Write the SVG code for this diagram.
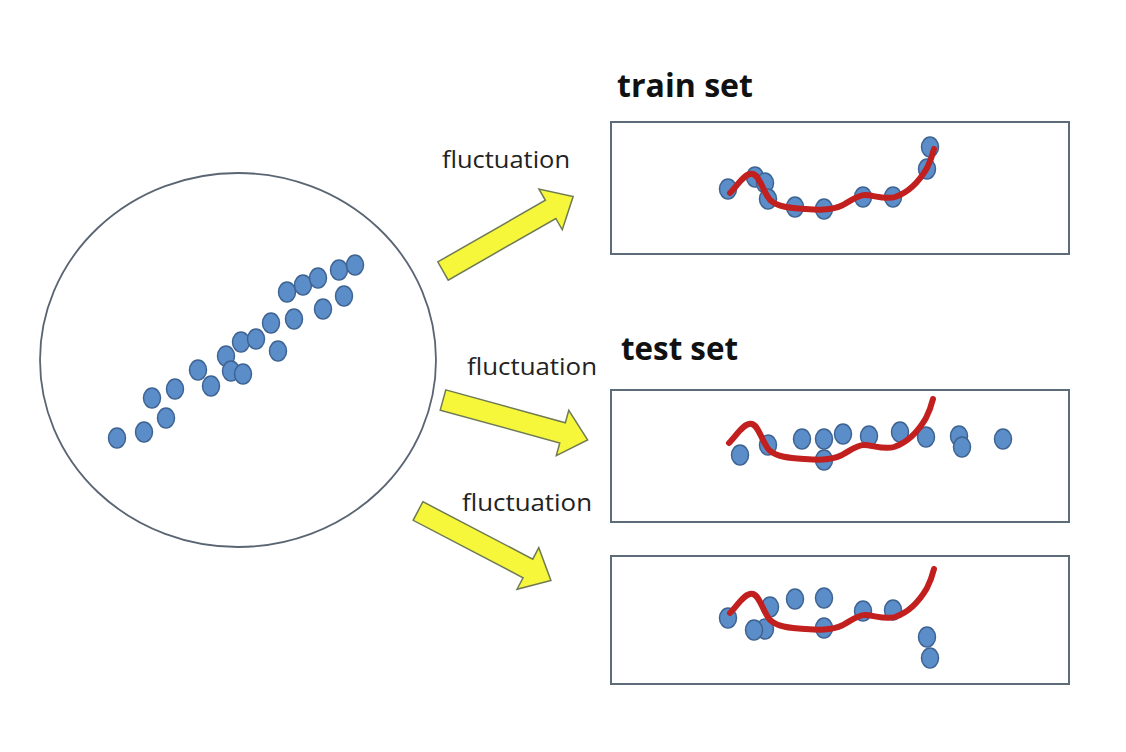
<svg xmlns="http://www.w3.org/2000/svg" xmlns:xlink="http://www.w3.org/1999/xlink" width="1126" height="752" viewBox="0 0 1126 752">
<style>
.dot{fill:#5b8dc9;stroke:#3e6392;stroke-width:1.5}
.box{fill:#ffffff;stroke:#5e6b78;stroke-width:2}
.fit{fill:none;stroke:#c21f1f;stroke-width:6;stroke-linecap:round;stroke-linejoin:round}
.arrow{fill:#f6f63a;stroke:#6f7a55;stroke-width:1.5;stroke-linejoin:miter}
.title{font-family:"Open Sans","Liberation Sans",sans-serif;font-weight:bold;font-size:32px;fill:#111}
.lbl{font-family:"Open Sans","Liberation Sans",sans-serif;font-size:24px;fill:#222}
</style>
<defs>
<path id="arr" d="M0,-10.5 H124 V-23.5 L150,0 L124,23.5 V10.5 H0 Z"/>
<path id="fitcurve" d="M730,193 C738,185 745,172 753,174 C760,176 762,190 770,200 C778,207 790,208 805,209 C818,210 830,211 843,205 C852,200 858,195 865,195 C873,195 885,200 895,197 C910,192 920,180 927,168 C931,160 933,153 934,149"/>
</defs>
<rect width="1126" height="752" fill="#ffffff"/>

<g id="population">
<ellipse cx="238" cy="360" rx="198" ry="187" fill="#ffffff" stroke="#5a6573" stroke-width="1.8"/>
<ellipse class="dot" cx="117" cy="438" rx="8.5" ry="10"/>
<ellipse class="dot" cx="144" cy="432" rx="8.5" ry="10"/>
<ellipse class="dot" cx="166" cy="418" rx="8.5" ry="10"/>
<ellipse class="dot" cx="152" cy="398" rx="8.5" ry="10"/>
<ellipse class="dot" cx="175" cy="389" rx="8.5" ry="10"/>
<ellipse class="dot" cx="198" cy="370" rx="8.5" ry="10"/>
<ellipse class="dot" cx="211" cy="386" rx="8.5" ry="10"/>
<ellipse class="dot" cx="226" cy="356" rx="8.5" ry="10"/>
<ellipse class="dot" cx="231" cy="371" rx="8.5" ry="10"/>
<ellipse class="dot" cx="243" cy="374" rx="8.5" ry="10"/>
<ellipse class="dot" cx="241" cy="342" rx="8.5" ry="10"/>
<ellipse class="dot" cx="256" cy="339" rx="8.5" ry="10"/>
<ellipse class="dot" cx="271" cy="323" rx="8.5" ry="10"/>
<ellipse class="dot" cx="278" cy="351" rx="8.5" ry="10"/>
<ellipse class="dot" cx="294" cy="319" rx="8.5" ry="10"/>
<ellipse class="dot" cx="287" cy="292" rx="8.5" ry="10"/>
<ellipse class="dot" cx="303" cy="285" rx="8.5" ry="10"/>
<ellipse class="dot" cx="318" cy="278" rx="8.5" ry="10"/>
<ellipse class="dot" cx="323" cy="309" rx="8.5" ry="10"/>
<ellipse class="dot" cx="339" cy="270" rx="8.5" ry="10"/>
<ellipse class="dot" cx="355" cy="265" rx="8.5" ry="10"/>
<ellipse class="dot" cx="344" cy="296" rx="8.5" ry="10"/>
</g>

<g id="connectors">
<use href="#arr" class="arrow" transform="translate(443,271) rotate(-29.8)"/>
<use href="#arr" class="arrow" transform="translate(443,400) rotate(15.4)"/>
<use href="#arr" class="arrow" transform="translate(418,511) rotate(27.6)"/>
<text class="lbl" x="442" y="168" textLength="128" lengthAdjust="spacingAndGlyphs">fluctuation</text>
<text class="lbl" x="467" y="375" textLength="130" lengthAdjust="spacingAndGlyphs">fluctuation</text>
<text class="lbl" x="462" y="511" textLength="130" lengthAdjust="spacingAndGlyphs">fluctuation</text>
</g>

<g id="train-set">
<text class="title" x="617" y="97" textLength="136" lengthAdjust="spacingAndGlyphs">train set</text>
<rect class="box" x="611" y="122" width="458" height="132"/>
<ellipse class="dot" cx="728" cy="189" rx="8.5" ry="10"/>
<ellipse class="dot" cx="755" cy="177" rx="8.5" ry="10"/>
<ellipse class="dot" cx="765" cy="183" rx="8.5" ry="10"/>
<ellipse class="dot" cx="768" cy="199" rx="8.5" ry="10"/>
<ellipse class="dot" cx="795" cy="207" rx="8.5" ry="10"/>
<ellipse class="dot" cx="824" cy="209" rx="8.5" ry="10"/>
<ellipse class="dot" cx="863" cy="197" rx="8.5" ry="10"/>
<ellipse class="dot" cx="893" cy="197" rx="8.5" ry="10"/>
<ellipse class="dot" cx="930" cy="147" rx="8.5" ry="10"/>
<ellipse class="dot" cx="927" cy="169" rx="8.5" ry="10"/>
<use href="#fitcurve" class="fit"/>
</g>

<g id="test-set">
<text class="title" x="621" y="360" textLength="117" lengthAdjust="spacingAndGlyphs">test set</text>
<rect class="box" x="611" y="390" width="458" height="132"/>
<ellipse class="dot" cx="740" cy="455" rx="8.5" ry="10"/>
<ellipse class="dot" cx="768" cy="445" rx="8.5" ry="10"/>
<ellipse class="dot" cx="802" cy="439" rx="8.5" ry="10"/>
<ellipse class="dot" cx="824" cy="460" rx="8.5" ry="10"/>
<ellipse class="dot" cx="824" cy="439" rx="8.5" ry="10"/>
<ellipse class="dot" cx="843" cy="434" rx="8.5" ry="10"/>
<ellipse class="dot" cx="869" cy="436" rx="8.5" ry="10"/>
<ellipse class="dot" cx="900" cy="432" rx="8.5" ry="10"/>
<ellipse class="dot" cx="926" cy="437" rx="8.5" ry="10"/>
<ellipse class="dot" cx="959" cy="436" rx="8.5" ry="10"/>
<ellipse class="dot" cx="962" cy="447" rx="8.5" ry="10"/>
<ellipse class="dot" cx="1003" cy="439" rx="8.5" ry="10"/>
<use href="#fitcurve" class="fit" transform="translate(-1,250)"/>
</g>

<g id="test-set-2">
<rect class="box" x="611" y="556" width="458" height="128"/>
<ellipse class="dot" cx="728" cy="618" rx="8.5" ry="10"/>
<ellipse class="dot" cx="770" cy="607" rx="8.5" ry="10"/>
<ellipse class="dot" cx="765" cy="629" rx="8.5" ry="10"/>
<ellipse class="dot" cx="754" cy="630" rx="8.5" ry="10"/>
<ellipse class="dot" cx="795" cy="599" rx="8.5" ry="10"/>
<ellipse class="dot" cx="824" cy="598" rx="8.5" ry="10"/>
<ellipse class="dot" cx="824" cy="628" rx="8.5" ry="10"/>
<ellipse class="dot" cx="863" cy="611" rx="8.5" ry="10"/>
<ellipse class="dot" cx="893" cy="610" rx="8.5" ry="10"/>
<ellipse class="dot" cx="927" cy="637" rx="8.5" ry="10"/>
<ellipse class="dot" cx="930" cy="658" rx="8.5" ry="10"/>
<use href="#fitcurve" class="fit" transform="translate(0,420)"/>
</g>
</svg>
